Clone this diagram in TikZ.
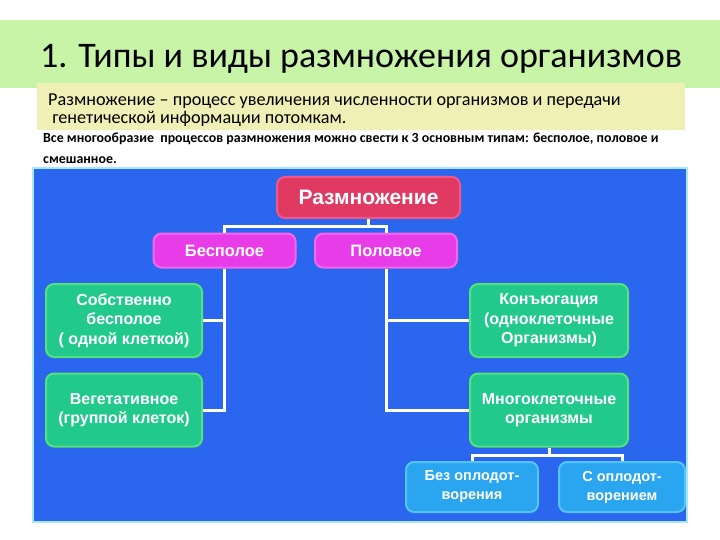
\documentclass[tikz,border=0pt]{standalone}
\usepackage{fontspec}
\setmainfont{Carlito}
\newfontfamily\boxfont{Liberation Sans}
\usetikzlibrary{positioning}

\definecolor{bandgreen}{HTML}{C8F4A8}
\definecolor{noteyellow}{HTML}{EFF0B5}
\definecolor{panelblue}{HTML}{2A66EE}
\definecolor{panelrim}{HTML}{A8E8F8}
\definecolor{rootred}{HTML}{E03A62}
\definecolor{rootrim}{HTML}{F2568A}
\definecolor{typemag}{HTML}{E83CE8}
\definecolor{typerim}{HTML}{F466F4}
\definecolor{kindgreen}{HTML}{22C98C}
\definecolor{kindrim}{HTML}{55E27A}
\definecolor{leafblue}{HTML}{2AA6F0}
\definecolor{leafrim}{HTML}{55C4FA}

\begin{document}
\begin{tikzpicture}[x=1pt, y=-1pt,
  box/.style={rounded corners=8pt, line width=2pt, align=center, inner sep=0pt,
    text=white, font=\boxfont\bfseries},
  rootbox/.style={box, fill=rootred, draw=rootrim, minimum width=183pt, minimum height=41pt,
    font=\boxfont\bfseries\fontsize{21}{24}\selectfont},
  typebox/.style={box, fill=typemag, draw=typerim, minimum width=142pt, minimum height=34pt,
    font=\boxfont\bfseries\fontsize{16.5}{19}\selectfont},
  kindbox/.style={box, fill=kindgreen, draw=kindrim, minimum width=156pt, minimum height=73pt,
    font=\boxfont\bfseries\fontsize{16}{19.5}\selectfont},
  leafbox/.style={box, fill=leafblue, draw=leafrim, minimum height=50pt,
    font=\boxfont\bfseries\fontsize{14.5}{19}\selectfont},
  link/.style={draw=white, line width=3pt},
]
  \useasboundingbox[fill=white] (0,0) rectangle (720,540);

  % title band and notes (base anchor = last line)
  \fill[bandgreen] (0,20) rectangle (720,88);
  \node[anchor=base west, inner sep=0pt, font=\fontsize{36}{40}\selectfont] (title) at (40,68)
    {1. Типы и виды размножения организмов};
  \fill[noteyellow] (37,83) rectangle (685,130);
  \node[anchor=base west, inner sep=0pt, align=left, font=\fontsize{18.2}{18}\selectfont] (defn) at (48,124)
    {Размножение – процесс увеличения численности организмов и передачи\\
     \ генетической информации потомкам.};
  \node[anchor=base west, inner sep=0pt, align=left, font=\bfseries\fontsize{13.9}{21}\selectfont] (summary) at (43,164)
    {Все многообразие \ процессов размножения можно свести к 3 основным типам: бесполое, половое и\\
     смешанное.};

  % blue panel
  \fill[panelrim] (32,167) rectangle (688,523);
  \fill[panelblue] (34,169) rectangle (686,521);

  % boxes
  \node[rootbox] (razm) at (368.5,197.5) {Размножение};
  \node[typebox] (besp) at (224.5,250.5) {Бесполое};
  \node[typebox] (pol) at (386,250.5) {Половое};
  \node[kindbox] (sobst) at (124,320.5) {Собственно\\бесполое\\( одной клеткой)};
  \node[kindbox] (veget) at (124,410) {Вегетативное\\(группой клеток)};
  \node[kindbox, minimum width=158pt] (konj) at (549,320.5) {Конъюгация\\(одноклеточные\\Организмы)};
  \node[kindbox, minimum width=158pt] (mnogo) at (549,410) {Многоклеточные\\организмы};
  \node[leafbox, minimum width=132pt] (bez) at (472,487) {Без оплодот-\\ворения};
  \node[leafbox, minimum width=126pt] (sopl) at (622,487) {С оплодот-\\ворением};

  % connectors
  \draw[link] (razm.south) -- ++(0,8) -| (besp.north);
  \draw[link] (razm.south) -- ++(0,8) -| (pol.north);
  \draw[link] (besp.south) |- (sobst.east);
  \draw[link] (besp.south) |- (veget.east);
  \draw[link] (pol.south) |- (konj.west);
  \draw[link] (pol.south) |- (mnogo.west);
  \draw[link] (mnogo.south) -- ++(0,8) -| (bez.north);
  \draw[link] (mnogo.south) -- ++(0,8) -| (sopl.north);
\end{tikzpicture}
\end{document}
